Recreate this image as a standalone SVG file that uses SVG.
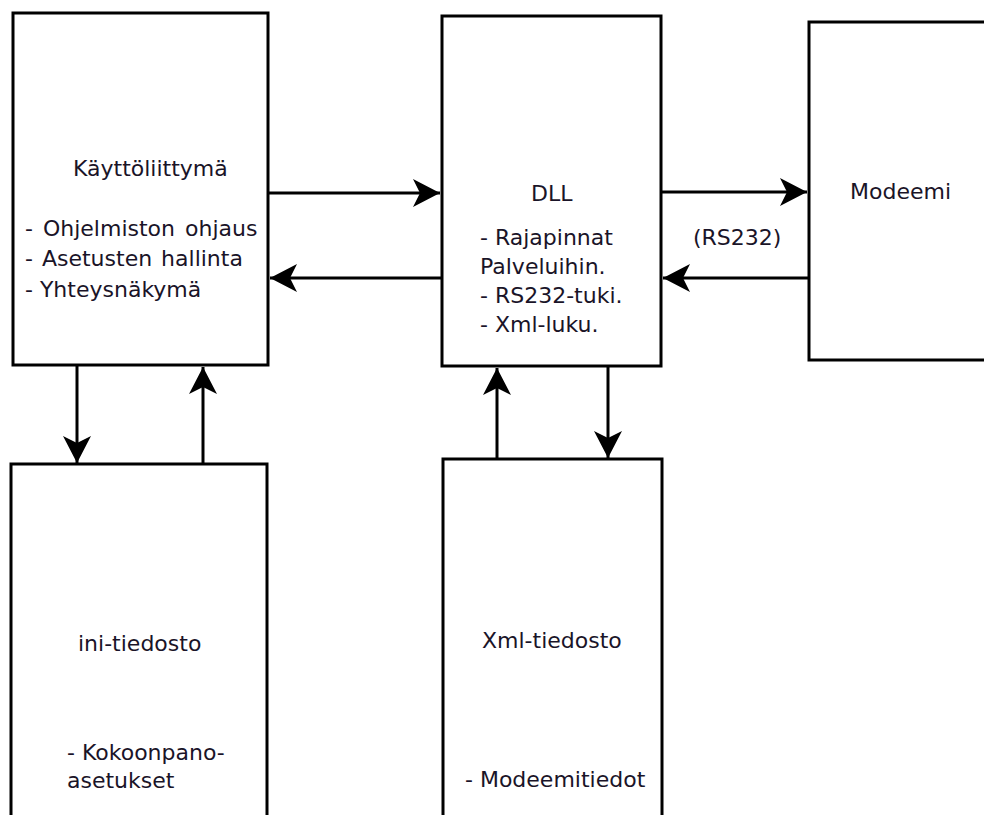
<svg xmlns="http://www.w3.org/2000/svg" width="984" height="815" viewBox="0 0 984 815">
<defs>
<style>
.box{fill:#fff;stroke:#000;stroke-width:3}
.t{font-family:"DejaVu Sans",Verdana,sans-serif;font-size:22px;fill:#1a1428}
.c{fill:none;stroke:#000;stroke-width:3}
</style>
<marker id="ah" markerUnits="userSpaceOnUse" markerWidth="28" markerHeight="28" viewBox="0 0 27 28" refX="27" refY="14" orient="auto">
<path d="M0,0 L27,14 L0,28 L7,14 Z" fill="#000"/>
</marker>
</defs>
<rect width="984" height="815" fill="#fff"/>
<g id="kayttoliittyma">
<rect class="box" x="13" y="13" width="255" height="352"/>
<text class="t" x="73" y="176">Käyttöliittymä</text>
<text class="t" x="25" y="236" word-spacing="3">- Ohjelmiston ohjaus</text>
<text class="t" x="25" y="266" word-spacing="2">- Asetusten hallinta</text>
<text class="t" x="25" y="297">- Yhteysnäkymä</text>
</g>
<g id="dll">
<rect class="box" x="442" y="16" width="219" height="350"/>
<text class="t" x="531" y="201">DLL</text>
<text class="t" x="480" y="245">- Rajapinnat</text>
<text class="t" x="480" y="274">Palveluihin.</text>
<text class="t" x="480" y="303">- RS232-tuki.</text>
<text class="t" x="480" y="332">- Xml-luku.</text>
</g>
<g id="modeemi">
<rect class="box" x="809" y="22" width="200" height="338"/>
<text class="t" x="850" y="199">Modeemi</text>
</g>
<g id="ini">
<rect class="box" x="11" y="464" width="256" height="400"/>
<text class="t" x="78" y="651">ini-tiedosto</text>
<text class="t" x="67" y="760">- Kokoonpano-</text>
<text class="t" x="67" y="788">asetukset</text>
</g>
<g id="xml">
<rect class="box" x="443" y="459" width="219" height="400"/>
<text class="t" x="482" y="648">Xml-tiedosto</text>
<text class="t" x="465" y="787">- Modeemitiedot</text>
</g>
<g id="connectors">
<line class="c" x1="269" y1="193" x2="440" y2="193" marker-end="url(#ah)"/>
<line class="c" x1="442" y1="278" x2="270" y2="278" marker-end="url(#ah)"/>
<line class="c" x1="662" y1="192" x2="807" y2="192" marker-end="url(#ah)"/>
<line class="c" x1="809" y1="278" x2="663" y2="278" marker-end="url(#ah)"/>
<line class="c" x1="77" y1="366" x2="77" y2="463" marker-end="url(#ah)"/>
<line class="c" x1="203" y1="464" x2="203" y2="367" marker-end="url(#ah)"/>
<line class="c" x1="497" y1="459" x2="497" y2="368" marker-end="url(#ah)"/>
<line class="c" x1="608" y1="367" x2="608" y2="458" marker-end="url(#ah)"/>
</g>
<g id="labels">
<text class="t" x="693" y="245">(RS232)</text>
</g>
</svg>
